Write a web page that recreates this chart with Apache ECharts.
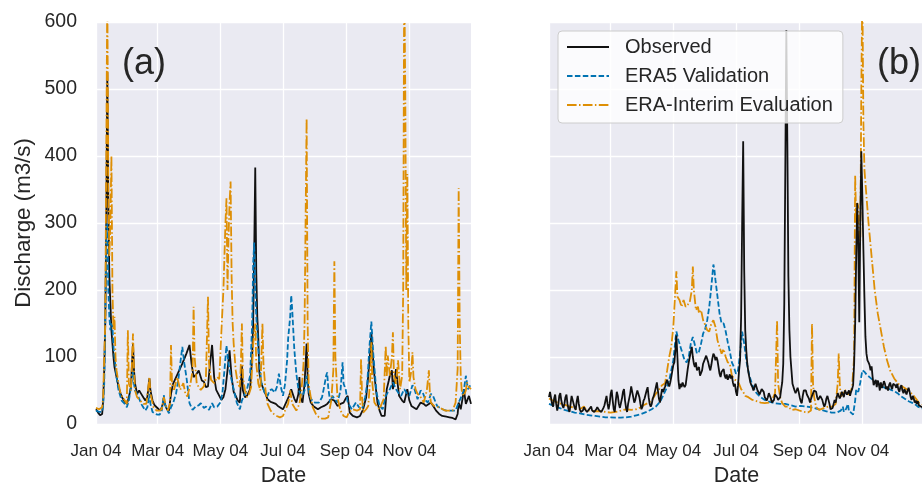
<!DOCTYPE html>
<html>
<head>
<meta charset="utf-8">
<script src="https://cdn.jsdelivr.net/npm/echarts@6/dist/echarts.min.js"></script>
<style>
  html, body { margin: 0; padding: 0; background: #ffffff; }
  #chart { width: 922px; height: 485px; }
</style>
</head>
<body>
<div id="chart"></div>
<script>
// Daily discharge, year 2004. Each series is a list of [dayOfYear, m3/s] readings.
const tickDates  = ['2004-01-01', '2004-03-01', '2004-05-01', '2004-07-01', '2004-09-01', '2004-11-01'];
const tickLabels = ['Jan 04', 'Mar 04', 'May 04', 'Jul 04', 'Sep 04', 'Nov 04'];
const seriesNames = ['Observed', 'ERA5 Validation', 'ERA-Interim Evaluation'];
const panelLabels = ['(a)', '(b)'];

// Panel (a)
const observedA = [[0,22],[2,17],[4,13],[6,15],[7,35],[8,80],[9,150],[10,300],[11,525],[12,330],[13,220],[14,180],[15,140],[16,120],[17,100],[18,85],[20,70],[22,55],[24,45],[26,38],[28,33],[30,30],[32,40],[34,55],[36,120],[37,80],[38,60],[40,45],[42,50],[44,45],[46,40],[48,35],[50,40],[52,68],[53,50],[55,35],[57,28],[59,25],[61,22],[63,20],[65,30],[66,38],[67,30],[69,22],[71,20],[73,45],[75,60],[78,70],[81,80],[84,90],[88,105],[91,118],[93,90],[95,70],[98,75],[100,80],[103,65],[105,63],[107,55],[109,56],[111,90],[113,118],[115,70],[117,51],[119,45],[122,36],[124,40],[126,52],[128,80],[130,110],[132,70],[134,48],[136,42],[138,35],[140,32],[142,87],[143,50],[145,40],[147,42],[150,52],[152,100],[153,152],[154,260],[155,383],[156,226],[157,160],[158,127],[159,77],[161,60],[163,52],[165,45],[167,37],[170,33],[172,32],[175,30],[177,27],[180,24],[182,22],[185,32],[188,42],[190,52],[193,38],[195,32],[197,45],[198,70],[199,40],[201,32],[203,60],[205,120],[206,70],[207,45],[209,32],[212,26],[216,22],[219,25],[222,27],[225,30],[229,37],[232,35],[235,27],[238,30],[241,32],[243,38],[245,42],[247,17],[250,12],[254,10],[257,12],[260,22],[263,40],[265,72],[267,110],[268,137],[269,110],[271,72],[273,45],[274,32],[276,20],[278,12],[281,12],[283,52],[285,65],[286,72],[288,80],[289,52],[291,70],[292,82],[294,55],[295,42],[298,35],[300,32],[303,52],[305,35],[307,27],[310,24],[312,22],[316,32],[319,30],[321,27],[324,30],[326,32],[329,25],[331,20],[334,15],[337,12],[341,11],[344,10],[347,9],[350,7],[352,15],[353,32],[355,22],[357,40],[358,52],[360,30],[361,32],[363,42],[365,30]];

const era5A = [[0,20],[3,18],[6,18],[7,30],[8,60],[9,150],[10,270],[11,300],[12,200],[13,160],[14,140],[15,150],[16,145],[17,115],[18,100],[20,70],[22,50],[25,35],[28,30],[30,25],[32,35],[34,55],[36,78],[37,60],[38,50],[40,45],[42,38],[44,30],[46,25],[48,20],[50,25],[52,45],[53,30],[55,18],[58,15],[60,14],[62,14],[64,20],[66,43],[67,30],[69,22],[71,16],[73,25],[75,31],[78,46],[80,65],[82,90],[84,115],[86,90],[88,70],[90,45],[91,31],[94,21],[97,26],[100,28],[102,31],[105,24],[107,26],[110,21],[113,31],[115,25],[118,26],[121,32],[123,45],[125,80],[127,117],[129,90],[131,72],[134,52],[137,32],[140,22],[142,35],[144,42],[147,52],[150,72],[152,150],[153,240],[154,271],[155,201],[156,160],[158,112],[160,75],[161,62],[164,47],[167,42],[169,50],[171,52],[174,47],[176,55],[178,75],[180,55],[182,42],[184,60],[186,95],[187,127],[189,160],[190,192],[191,170],[193,112],[195,75],[197,52],[199,45],[201,42],[203,50],[205,72],[206,60],[208,42],[210,36],[213,32],[217,32],[220,40],[222,55],[224,72],[225,77],[226,55],[228,32],[230,42],[232,38],[235,32],[238,50],[240,92],[241,60],[243,52],[245,32],[249,22],[253,32],[256,25],[259,22],[262,40],[264,60],[266,112],[268,153],[270,102],[273,47],[276,27],[279,22],[282,42],[286,52],[289,62],[292,52],[295,45],[297,42],[300,52],[303,45],[305,42],[308,58],[310,52],[313,37],[316,50],[318,47],[321,35],[323,32],[326,45],[328,42],[332,27],[337,22],[341,20],[345,20],[350,20],[353,32],[356,42],[358,50],[360,72],[362,52],[364,57],[365,60]];

const eraInterimA = [[0,24],[3,22],[6,25],[7,40],[8,100],[9,150],[10,400],[11,650],[12,350],[13,250],[14,300],[15,400],[16,200],[17,140],[18,160],[19,100],[20,80],[22,60],[24,45],[26,40],[28,35],[30,30],[31,140],[32,60],[34,50],[36,135],[37,80],[38,50],[40,40],[43,35],[46,30],[49,30],[52,70],[53,45],[56,25],[59,20],[62,20],[64,22],[66,40],[68,28],[70,20],[72,30],[73,118],[74,60],[76,51],[79,70],[82,51],[85,61],[87,45],[89,41],[92,61],[94,80],[95,175],[96,100],[98,61],[100,55],[102,51],[105,56],[107,70],[109,190],[110,90],[112,66],[115,61],[118,70],[120,67],[122,137],[124,200],[126,300],[127,337],[128,200],[129,280],[130,330],[131,362],[132,220],[133,150],[134,120],[136,80],[138,60],[140,55],[141,90],[142,150],[143,70],[145,50],[147,40],[149,45],[151,55],[153,120],[155,150],[156,90],[158,60],[160,50],[162,150],[163,90],[165,50],[167,30],[170,20],[173,15],[176,12],[179,10],[182,12],[184,20],[187,30],[189,50],[191,30],[195,20],[198,30],[200,50],[202,90],[203,150],[205,456],[206,150],[207,60],[209,40],[211,25],[214,15],[217,10],[220,8],[223,8],[226,10],[229,35],[231,80],[232,243],[233,100],[235,40],[238,20],[241,12],[244,10],[246,17],[250,22],[254,20],[257,22],[258,97],[259,40],[260,17],[263,22],[265,27],[267,70],[268,122],[269,60],[271,32],[274,25],[276,22],[278,30],[280,37],[282,117],[283,70],[284,102],[286,72],[288,100],[289,137],[290,72],[292,60],[294,95],[296,52],[298,72],[299,200],[300,680],[301,500],[302,200],[303,373],[304,150],[305,62],[307,80],[308,107],[309,70],[311,52],[313,45],[315,42],[317,38],[319,32],[322,50],[324,80],[325,45],[326,32],[329,27],[334,25],[340,20],[347,20],[350,32],[352,82],[353,352],[354,150],[355,72],[356,50],[358,42],[360,50],[361,62],[363,55],[365,52]];

// Panel (b)
const observedB = [[0,40],[1,48],[2,46],[3,30],[4,26],[5,38],[6,44],[7,30],[8,20],[9,28],[10,42],[11,46],[12,35],[13,28],[14,24],[15,30],[16,40],[17,44],[18,30],[19,22],[20,18],[21,30],[22,42],[23,44],[24,30],[25,24],[26,21],[27,34],[28,42],[29,30],[30,22],[31,18],[33,20],[34,25],[35,22],[37,18],[39,22],[41,26],[42,20],[44,18],[46,22],[47,25],[49,20],[51,18],[53,24],[54,28],[55,35],[56,42],[57,30],[58,22],[59,30],[60,45],[61,51],[62,35],[63,22],[64,18],[65,35],[66,48],[67,42],[68,30],[69,24],[70,22],[71,38],[72,48],[73,52],[74,35],[75,24],[76,18],[77,30],[79,45],[80,56],[81,48],[82,40],[83,32],[84,36],[85,44],[86,50],[87,52],[88,40],[89,30],[90,22],[91,26],[92,35],[93,38],[94,44],[95,50],[96,55],[97,40],[98,30],[99,26],[100,30],[101,38],[102,42],[103,48],[104,55],[105,62],[106,50],[107,38],[108,32],[109,42],[110,52],[111,48],[112,52],[113,56],[114,62],[115,66],[116,60],[117,56],[118,62],[119,70],[120,72],[121,88],[122,92],[123,110],[124,132],[125,100],[126,65],[127,52],[128,60],[129,55],[130,62],[131,58],[132,55],[133,58],[134,70],[135,82],[136,92],[137,100],[138,108],[139,115],[140,100],[141,90],[142,85],[143,92],[144,80],[145,78],[146,85],[147,72],[148,70],[149,80],[150,90],[151,88],[152,98],[153,102],[154,100],[155,92],[156,85],[157,80],[158,88],[159,98],[160,105],[161,102],[162,95],[163,100],[164,95],[165,85],[166,75],[167,70],[168,78],[169,80],[170,82],[171,72],[172,68],[173,74],[174,66],[175,70],[176,74],[177,68],[178,72],[179,62],[180,56],[181,60],[182,48],[183,42],[184,58],[185,80],[186,95],[187,160],[188,300],[189,422],[190,230],[191,140],[192,110],[193,90],[194,78],[195,70],[196,62],[197,58],[198,55],[199,50],[200,55],[201,60],[202,58],[203,50],[204,48],[205,44],[206,46],[207,52],[208,50],[209,48],[210,40],[211,38],[212,35],[213,40],[214,46],[215,44],[216,38],[217,32],[218,30],[219,36],[220,44],[221,46],[222,40],[223,36],[224,35],[225,40],[226,52],[227,62],[228,90],[229,180],[230,380],[231,588],[232,420],[233,220],[234,140],[235,100],[236,80],[237,60],[238,58],[239,50],[240,46],[241,50],[242,54],[243,48],[244,40],[245,34],[246,31],[247,42],[248,50],[249,48],[250,50],[251,44],[252,46],[253,38],[254,32],[255,30],[256,42],[258,50],[260,48],[261,40],[262,36],[263,38],[264,42],[265,40],[266,36],[267,30],[268,26],[269,30],[270,38],[271,42],[272,36],[273,30],[274,22],[275,20],[276,24],[277,30],[278,36],[279,32],[280,40],[281,46],[282,44],[283,38],[284,42],[285,48],[286,46],[287,40],[288,50],[289,52],[290,44],[291,46],[292,50],[293,42],[294,48],[295,52],[296,58],[297,90],[298,150],[299,250],[300,330],[301,270],[302,152],[303,300],[304,407],[305,340],[306,260],[307,190],[308,130],[309,105],[310,95],[311,92],[312,88],[313,80],[314,86],[315,70],[316,58],[317,62],[318,66],[319,55],[320,65],[321,60],[322,50],[323,62],[324,54],[325,58],[326,64],[327,60],[328,52],[329,56],[330,50],[331,58],[332,62],[333,56],[334,52],[335,60],[336,62],[337,58],[338,54],[339,60],[340,52],[341,48],[342,55],[343,58],[344,50],[345,46],[346,52],[347,48],[348,44],[349,50],[350,54],[351,48],[352,40],[353,36],[354,42],[355,38],[356,32],[357,35],[358,30],[359,34],[360,28],[361,30],[362,26],[363,28],[364,25],[365,26]];

const era5B = [[0,30],[5,27],[10,24],[15,21],[20,19],[25,17],[30,16],[35,14],[40,13],[45,12],[50,11],[55,10],[60,10],[65,9.5],[70,9.5],[75,10],[80,11],[85,13],[90,15],[95,18],[100,22],[104,26],[108,33],[111,42],[114,52],[117,65],[119,80],[121,95],[123,125],[124,138],[126,125],[128,115],[130,105],[132,95],[134,92],[136,100],[138,120],[140,130],[142,118],[144,105],[146,108],[148,120],[150,135],[152,142],[154,155],[156,175],[158,205],[160,238],[161,230],[162,215],[164,190],[166,165],[168,150],[170,150],[172,138],[174,122],[176,108],[178,92],[180,85],[182,75],[184,80],[186,105],[188,138],[189,140],[190,120],[192,95],[195,72],[198,58],[202,46],[206,40],[210,36],[215,33],[220,31],[225,30],[230,30],[235,28],[240,26],[245,27],[250,26],[255,25],[260,23],[265,21],[270,19],[275,17],[280,17],[284,20],[286,26],[287,18],[289,22],[291,30],[292,18],[294,17],[296,14],[297,13],[298,35],[299,52],[301,48],[303,62],[305,80],[307,78],[309,74],[312,70],[315,66],[318,62],[321,60],[324,56],[327,54],[330,53],[333,51],[337,48],[340,45],[343,41],[347,37],[350,34],[353,32],[356,30],[359,26],[362,24],[365,22]];

const eraInterimB = [[0,38],[5,34],[10,31],[15,29],[20,26],[25,24],[30,22],[34,26],[36,21],[40,20],[45,19],[50,19],[55,18],[60,17],[65,18],[70,20],[75,22],[80,21],[85,22],[88,24],[92,28],[96,31],[100,35],[104,45],[107,51],[110,58],[113,61],[115,80],[117,100],[119,115],[121,145],[123,200],[124,228],[125,190],[127,185],[129,175],[131,185],[133,175],[135,178],[137,182],[139,200],[140,235],[141,200],[143,170],[145,175],[146,165],[148,170],[150,155],[152,148],[154,140],[156,138],[158,150],[160,155],[162,145],[164,125],[166,115],[168,105],[170,112],[172,100],[174,92],[176,90],[178,72],[181,66],[183,65],[185,60],[187,52],[189,48],[191,42],[194,40],[198,36],[202,34],[206,32],[210,31],[214,32],[217,36],[220,46],[221,100],[222,155],[223,60],[225,40],[227,31],[230,26],[233,26],[236,21],[240,22],[244,20],[248,18],[252,17],[255,20],[256,150],[257,60],[258,41],[260,25],[263,21],[268,24],[272,26],[276,26],[279,30],[281,60],[282,105],[283,60],[284,41],[286,45],[288,51],[291,44],[293,46],[295,55],[297,100],[298,371],[299,300],[300,330],[301,325],[302,260],[303,275],[304,500],[305,650],[306,450],[307,380],[309,340],[311,300],[314,250],[317,200],[320,165],[323,140],[326,115],[329,95],[332,80],[336,68],[340,60],[345,55],[350,50],[355,42],[360,32],[365,28]];

// Category axis: every day of 2004
const days = [];
for (let i = 0; i < 366; i++) {
  days.push(new Date(Date.UTC(2004, 0, 1 + i)).toISOString().slice(0, 10));
}

const FONT = '"Liberation Sans", Arial, sans-serif';
const INK = '#262626';
const COLORS = ['#111111', '#0173B2', '#DE8F05'];
const DASHES = ['solid', [5.5, 2.4], [9.6, 2.4, 1.5, 2.4]];
const LINE_W = 1.8;

const isTick = (idx, val) => tickDates.indexOf(val) !== -1;

function xAxisFor(gridIndex) {
  return {
    type: 'category', gridIndex: gridIndex, data: days, boundaryGap: false,
    axisLine: { show: false }, axisTick: { show: false },
    axisLabel: {
      interval: isTick, margin: 19, color: INK, fontSize: 17, fontFamily: FONT,
      formatter: v => tickLabels[tickDates.indexOf(v)]
    },
    splitLine: { show: true, interval: isTick, lineStyle: { color: '#ffffff', width: 1.3 } },
    name: 'Date', nameLocation: 'middle', nameGap: 41, nameMoveOverlap: false,
    nameTextStyle: { color: INK, fontSize: 21.5, fontFamily: FONT }
  };
}

function yAxisFor(gridIndex, withLabels) {
  return {
    type: 'value', gridIndex: gridIndex, min: 0, max: 600, interval: 100,
    axisLine: { show: false }, axisTick: { show: false },
    axisLabel: { show: withLabels, margin: 19, color: INK, fontSize: 19.5, fontFamily: FONT, padding: [12, 0, 0, 0] },
    splitLine: { show: true, lineStyle: { color: '#ffffff', width: 1.3 } },
    name: withLabels ? 'Discharge (m3/s)' : '', nameLocation: 'middle', nameGap: 61, nameMoveOverlap: false,
    nameTextStyle: { color: INK, fontSize: 22.3, fontFamily: FONT }
  };
}

function lineSeries(kind, data, gridIndex, z) {
  return {
    type: 'line', name: seriesNames[kind], data: data,
    xAxisIndex: gridIndex, yAxisIndex: gridIndex,
    showSymbol: false, symbol: 'none', z: z, clip: true,
    lineStyle: { color: COLORS[kind], width: LINE_W, type: DASHES[kind] },
    itemStyle: { color: COLORS[kind] },
    emphasis: { disabled: true }
  };
}

const gridBase = {
  top: 22, width: 375, height: 402, show: true, backgroundColor: '#EAEAF2', borderWidth: 0,
  containLabel: false, outerBoundsMode: 'none'
};

const chart = echarts.init(document.getElementById('chart'), null, { renderer: 'canvas' });
chart.setOption({
  animation: false,
  backgroundColor: '#ffffff',
  textStyle: { fontFamily: FONT, color: INK },
  grid: [
    Object.assign({ left: 96 }, gridBase),
    Object.assign({ left: 549 }, gridBase)
  ],
  xAxis: [xAxisFor(0), xAxisFor(1)],
  yAxis: [yAxisFor(0, true), yAxisFor(1, false)],
  legend: {
    data: seriesNames, orient: 'vertical', left: 558, top: 31, z: 10,
    itemWidth: 42, itemHeight: 14, itemGap: 9,
    padding: [6, 10, 8, 8],
    backgroundColor: 'rgba(255,255,255,0.8)', borderColor: '#cccccc', borderWidth: 1, borderRadius: 4,
    itemStyle: { opacity: 0, borderWidth: 0 },
    textStyle: { color: INK, fontSize: 20, fontFamily: FONT, padding: [0, 0, 0, 11] },
    selectedMode: false
  },
  graphic: [
    { type: 'text', left: 122, top: 46, z: 20, style: { text: panelLabels[0], fontSize: 36, fontFamily: FONT, fill: INK } },
    { type: 'text', left: 877, top: 46, z: 20, style: { text: panelLabels[1], fontSize: 36, fontFamily: FONT, fill: INK } }
  ],
  series: [
    lineSeries(0, observedA, 0, 2),
    lineSeries(1, era5A, 0, 3),
    lineSeries(2, eraInterimA, 0, 4),
    lineSeries(1, era5B, 1, 2),
    lineSeries(2, eraInterimB, 1, 3),
    lineSeries(0, observedB, 1, 4)
  ]
});
</script>
</body>
</html>
